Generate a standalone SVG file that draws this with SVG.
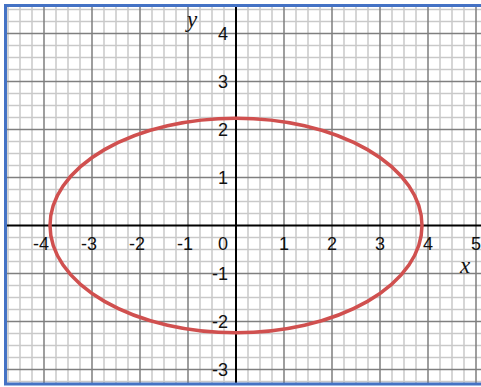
<svg xmlns="http://www.w3.org/2000/svg" width="481" height="387" viewBox="0 0 481 387">
<style>
.minor{stroke:#c9c9c9;stroke-width:1.5;fill:none}
.major{stroke:#7f7f7f;stroke-width:1.5;fill:none}
.axis{stroke:#000;stroke-width:2;fill:none}
.num{font-family:"Liberation Sans",Arial,sans-serif;font-size:18px;fill:#111}
.var{font-family:"Liberation Serif","Times New Roman",serif;font-style:italic;font-size:23px;fill:#111}
.border{stroke:#4472c4;stroke-width:3;fill:none}
</style>
<rect x="0" y="0" width="481" height="387" fill="#fff"/>
<g id="grid">
<path class="minor" d="M8 7V383M20 7V383M32 7V383M56 7V383M68 7V383M80 7V383M104 7V383M116 7V383M128 7V383M152 7V383M164 7V383M176 7V383M200 7V383M212 7V383M224 7V383M248 7V383M260 7V383M272 7V383M296 7V383M308 7V383M320 7V383M344 7V383M356 7V383M368 7V383M392 7V383M404 7V383M416 7V383M440 7V383M452 7V383M464 7V383
M7 9.5H481M7 21.5H481M7 45.5H481M7 57.5H481M7 69.5H481M7 93.5H481M7 105.5H481M7 117.5H481M7 141.5H481M7 153.5H481M7 165.5H481M7 189.5H481M7 201.5H481M7 213.5H481M7 237.5H481M7 249.5H481M7 261.5H481M7 285.5H481M7 297.5H481M7 309.5H481M7 333.5H481M7 345.5H481M7 357.5H481M7 381.5H481"/>
<path class="major" d="M44 7V383M92 7V383M140 7V383M188 7V383M284 7V383M332 7V383M380 7V383M428 7V383M476 7V383
M7 33.5H481M7 81.5H481M7 129.5H481M7 177.5H481M7 273.5H481M7 321.5H481M7 369.5H481"/>
</g>
<g id="axes">
<path class="axis" d="M7 225.5H481M236 7V383"/>
</g>
<g id="ellipse">
<ellipse cx="236" cy="225.5" rx="186" ry="107.3" fill="none" stroke="#d0504f" stroke-width="3.5"/>
</g>
<g id="xlabels" class="num" text-anchor="end">
<text x="49" y="250">-4</text>
<text x="97" y="250">-3</text>
<text x="145" y="250">-2</text>
<text x="193" y="250">-1</text>
<text x="228" y="250">0</text>
<text x="289" y="250">1</text>
<text x="337" y="250">2</text>
<text x="385" y="250">3</text>
<text x="433" y="250">4</text>
<text x="481" y="250">5</text>
</g>
<g id="ylabels" class="num" text-anchor="end">
<text x="228" y="40">4</text>
<text x="228" y="88">3</text>
<text x="228" y="136">2</text>
<text x="228" y="184">1</text>
<text x="228" y="280">-1</text>
<text x="228" y="328">-2</text>
<text x="228" y="376">-3</text>
</g>
<g id="varlabels" class="var">
<text x="460" y="273">x</text>
<text x="187" y="27">y</text>
</g>
<g id="frame">
<path class="border" d="M481 5.5H5.5V384H481"/>
</g>
</svg>
